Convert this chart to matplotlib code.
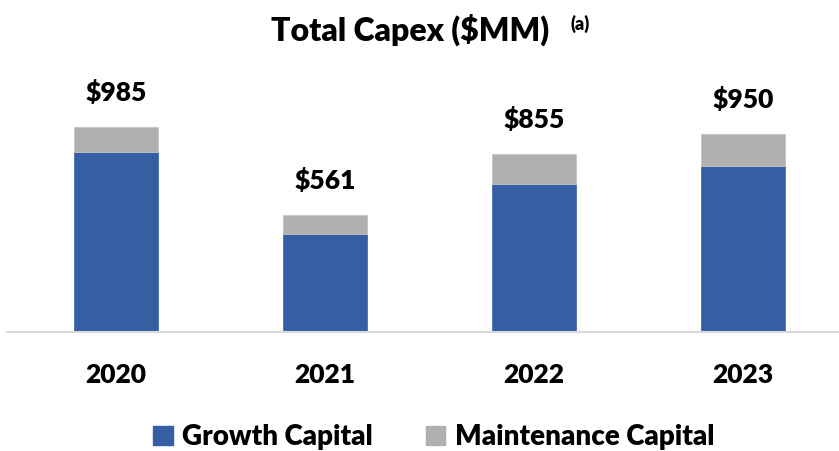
import matplotlib.pyplot as plt
from matplotlib.patches import Patch

years = ['2020', '2021', '2022', '2023']
growth = [865, 471, 711, 797]
maintenance = [120, 90, 144, 153]
totals = ['$985', '$561', '$855', '$950']

blue = '#365ea3'
grey = '#b0b0b0'

plt.rcParams['font.family'] = ['Lato', 'DejaVu Sans']
wt = 'heavy'

fig = plt.figure(figsize=(8.39, 4.51), dpi=100)
W, H = 839, 451
# axes: left 7px, baseline at y=332px, top at y=60px
ax = fig.add_axes([7 / W, (H - 332) / H, (852 - 7) / W, (332 - 60) / H])

x = range(len(years))
ax.bar(x, growth, width=0.4, color=blue, edgecolor='#4a6fae', linewidth=0.6, zorder=2)
ax.bar(x, maintenance, width=0.4, bottom=growth, color=grey, edgecolor='#c4c4c4',
       linewidth=0.6, zorder=2)

for i, lab in enumerate(totals):
    top = growth[i] + maintenance[i]
    ax.annotate(lab, (i, top), xytext=(0, 25), textcoords='offset points',
                ha='center', va='center', fontsize=19, fontweight=wt)

ax.set_xlim(-0.52, 3.52)
ax.set_ylim(0, 1306)
ax.set_xticks(list(x))
ax.set_xticklabels(years, fontsize=19, fontweight=wt)
ax.tick_params(axis='x', length=0, pad=22)
ax.set_yticks([])
for s in ['top', 'left', 'right']:
    ax.spines[s].set_visible(False)
ax.spines['bottom'].set_color('#d9d9d9')
ax.spines['bottom'].set_linewidth(1.5)

fig.text(410 / W, 1 - 30 / H, 'Total Capex ($MM)', ha='center', va='center',
         fontsize=23, fontweight=wt)
fig.text(580 / W, 1 - 24 / H, '(a)', ha='center', va='center',
         fontsize=13, fontweight=wt)

handles = [Patch(color=blue), Patch(color=grey)]
fig.legend(handles, ['Growth Capital', 'Maintenance Capital'], loc='center',
           bbox_to_anchor=(434 / W, 1 - 437 / H), ncol=2, frameon=False,
           prop={'size': 20, 'weight': wt}, handlelength=0.7, handleheight=0.7,
           handletextpad=0.35, columnspacing=1.9)

fig.savefig('out.png', dpi=100)
